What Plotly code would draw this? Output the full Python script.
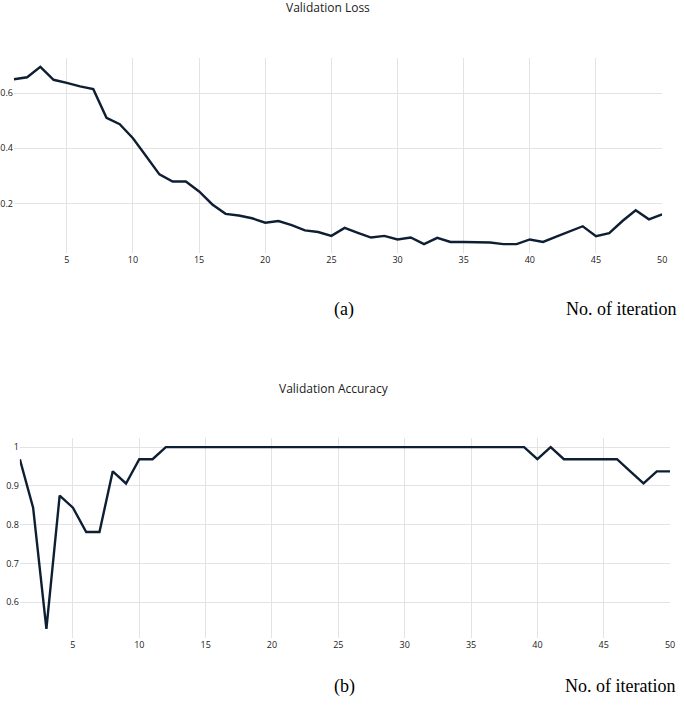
import plotly.graph_objects as go

iterations = list(range(1, 51))
val_loss = [0.650, 0.657, 0.695, 0.648, 0.637, 0.624, 0.614, 0.510, 0.487, 0.436,
            0.371, 0.305, 0.279, 0.279, 0.243, 0.196, 0.162, 0.156, 0.146, 0.130,
            0.136, 0.121, 0.102, 0.096, 0.082, 0.111, 0.093, 0.076, 0.082, 0.069,
            0.076, 0.052, 0.075, 0.060, 0.060, 0.060, 0.058, 0.052, 0.052, 0.069,
            0.060, 0.079, 0.098, 0.117, 0.081, 0.092, 0.136, 0.175, 0.142, 0.160]
val_acc = [0.96875, 0.84375, 0.53125, 0.875, 0.84375, 0.78125, 0.78125, 0.9375, 0.90625, 0.96875,
           0.96875, 1, 1, 1, 1, 1, 1, 1, 1, 1,
           1, 1, 1, 1, 1, 1, 1, 1, 1, 1,
           1, 1, 1, 1, 1, 1, 1, 1, 1, 0.96875,
           1, 0.96875, 0.96875, 0.96875, 0.96875, 0.96875, 0.9375, 0.90625, 0.9375, 0.9375]
x_ticks = [5, 10, 15, 20, 25, 30, 35, 40, 45, 50]

W, H = 685, 707
line_color = "#0e1f33"
grid = "#e4e2e4"
tick_font = dict(family="Open Sans", size=9, color="#1a1a1a")

fig = go.Figure()
fig.add_trace(go.Scatter(x=iterations, y=val_loss, mode="lines",
                         line=dict(color=line_color, width=2.4), xaxis="x", yaxis="y"))
fig.add_trace(go.Scatter(x=iterations, y=val_acc, mode="lines",
                         line=dict(color=line_color, width=2.4), xaxis="x2", yaxis="y2"))

def px_x(p):
    return p / W

def px_y(p):
    return (H - p) / H

common_x = dict(tickvals=x_ticks, showgrid=True, gridcolor=grid, zeroline=False,
                showline=False, tickfont=tick_font, ticks="", range=[1, 50])
common_y = dict(showgrid=True, gridcolor=grid, zeroline=False, showline=False,
                tickfont=tick_font, ticks="")

fig.update_layout(
    width=W, height=H,
    margin=dict(l=0, r=0, t=0, b=0),
    paper_bgcolor="white", plot_bgcolor="white",
    showlegend=False,
    xaxis=dict(domain=[px_x(14), px_x(667)], anchor="y", **common_x),
    yaxis=dict(domain=[px_y(253), px_y(58)], anchor="x", dtick=0.2, tick0=0,
               range=[0.02, 0.727], **common_y),
    xaxis2=dict(domain=[px_x(20), px_x(675)], anchor="y2", **common_x),
    yaxis2=dict(domain=[px_y(638), px_y(438)], anchor="x2", dtick=0.1, tick0=0,
                range=[0.508, 1.0234], **common_y),
)

title_font = dict(family="Open Sans", size=12, color="#222222")
serif = dict(family="Liberation Serif", size=18, color="#000000")
anns = [
    dict(text="Validation Loss", x=px_x(330), y=px_y(8), font=title_font),
    dict(text="Validation Accuracy", x=px_x(336), y=px_y(388), font=title_font),
    dict(text="(a)", x=px_x(347), y=px_y(309), font=serif),
    dict(text="No. of iteration", x=px_x(683), y=px_y(309), font=serif, xanchor="right"),
    dict(text="(b)", x=px_x(347), y=px_y(686), font=serif),
    dict(text="No. of iteration", x=px_x(682), y=px_y(686), font=serif, xanchor="right"),
]
for a in anns:
    a.setdefault("xanchor", "center")
    fig.add_annotation(xref="paper", yref="paper", showarrow=False, yanchor="middle", **a)

fig.write_html("out.html", config={"displayModeBar": False},
               post_script="document.body.style.margin='0';document.body.style.overflow='hidden';")
